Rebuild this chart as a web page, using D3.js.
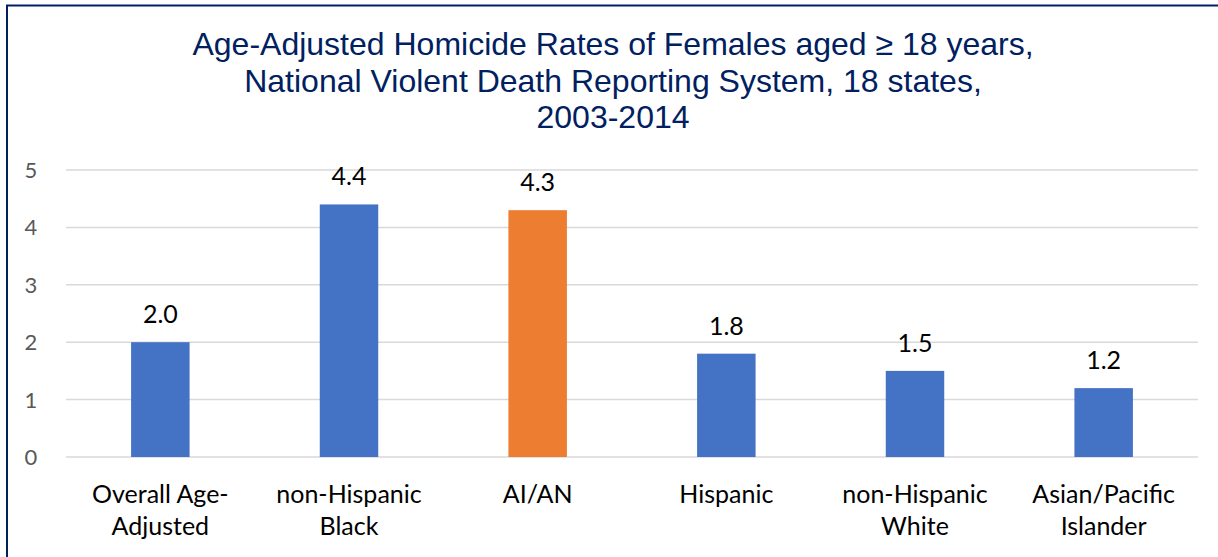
<!DOCTYPE html>
<html><head><meta charset="utf-8">
<script src="https://cdn.jsdelivr.net/npm/d3@7"></script>
<style>body{margin:0;background:#fff}svg{display:block}</style>
</head><body>
<svg id="c" width="1218" height="557"></svg>
<script>
const categories = [["Overall Age-","Adjusted"],["non-Hispanic","Black"],["AI/AN"],["Hispanic"],["non-Hispanic","White"],["Asian/Pacific","Islander"]];
const values = [2.0, 4.4, 4.3, 1.8, 1.5, 1.2];
const barColors = ["#4472C4","#4472C4","#ED7D31","#4472C4","#4472C4","#4472C4"];
const yTicks = [0,1,2,3,4,5];
const titleLines = ["Age-Adjusted Homicide Rates of Females aged \u2265 18 years,","National Violent Death Reporting System, 18 states,","2003-2014"];

const svg = d3.select("#c");
// border
svg.append("rect").attr("x",7).attr("y",5.5).attr("width",1218).attr("height",600)
  .attr("fill","none").attr("stroke","#002060").attr("stroke-width",2);

const pLeft = 66, pRight = 1198, pTop = 170, pBottom = 457;
const x = d3.scaleBand().domain(d3.range(categories.length)).range([pLeft,pRight]).paddingInner(0.69).paddingOuter(0.345);
const y = d3.scaleLinear().domain([0,5]).range([pBottom,pTop]);

// title
svg.append("g").selectAll("text").data(titleLines).join("text")
  .attr("x",613).attr("y",(d,i)=>55+i*36.5).attr("text-anchor","middle")
  .attr("font-family","Liberation Sans, Arial, sans-serif").attr("font-size",32)
  .attr("fill","#002060").text(d=>d);

// gridlines
svg.append("g").selectAll("line").data(yTicks).join("line")
  .attr("x1",pLeft).attr("x2",pRight).attr("y1",d=>y(d)).attr("y2",d=>y(d))
  .attr("stroke","#D9D9D9").attr("stroke-width",1.5);

// y tick labels
svg.append("g").selectAll("text").data(yTicks).join("text")
  .attr("x",31).attr("y",d=>y(d)+8).attr("text-anchor","middle")
  .attr("font-family","Lato, sans-serif").attr("font-size",22).attr("fill","#595959").text(d=>d);

// bars
svg.append("g").selectAll("rect").data(values).join("rect")
  .attr("x",(d,i)=>x(i)).attr("width",x.bandwidth())
  .attr("y",d=>y(d)).attr("height",d=>y(0)-y(d)).attr("fill",(d,i)=>barColors[i]);

// value labels
svg.append("g").selectAll("text").data(values).join("text")
  .attr("x",(d,i)=>x(i)+x.bandwidth()/2).attr("y",d=>y(d)-19).attr("text-anchor","middle")
  .attr("font-family","Lato, sans-serif").attr("font-size",25).attr("fill","#000").text(d=>d.toFixed(1));

// category labels
const cg = svg.append("g").selectAll("text").data(categories).join("text")
  .attr("x",(d,i)=>x(i)+x.bandwidth()/2).attr("y",503).attr("text-anchor","middle")
  .attr("font-family","Lato, sans-serif").attr("font-size",25).attr("fill","#000");
cg.selectAll("tspan").data(d=>d).join("tspan")
  .attr("x",function(){return this.parentNode.getAttribute("x");})
  .attr("dy",(d,i)=>i===0?0:32).text(d=>d);
</script>
</body></html>
